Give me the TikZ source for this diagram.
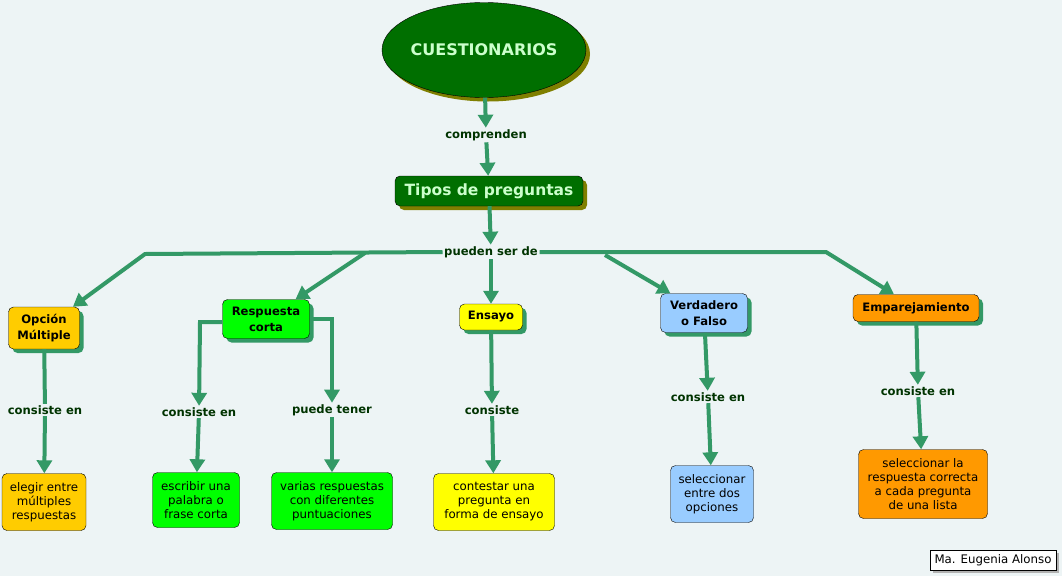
\documentclass[tikz,border=0pt]{standalone}
\usepackage{fontspec}
\setmainfont{DejaVu Sans}
\usetikzlibrary{arrows.meta,shapes.geometric,shadows,positioning}

\definecolor{fondo}{HTML}{EDF4F5}
\definecolor{verdeflecha}{HTML}{339966}
\definecolor{oliva}{HTML}{7F7F00}
\definecolor{verdeosc}{HTML}{006F00}
\definecolor{verdeclaro}{HTML}{CCFFCC}
\definecolor{textoenlace}{HTML}{003300}
\definecolor{amarillo1}{HTML}{FFCC00}
\definecolor{verde1}{HTML}{00FF00}
\definecolor{amarillo2}{HTML}{FFFF00}
\definecolor{azul1}{HTML}{99CCFF}
\definecolor{naranja1}{HTML}{FF9900}

\begin{document}
\begin{tikzpicture}[
  x=1pt, y=-1pt,
  concepto/.style={draw, rounded corners=5pt, align=center, inner sep=2pt,
    font=\bfseries\fontsize{11.6}{16}\selectfont,
    drop shadow={shadow xshift=4pt, shadow yshift=-4pt, fill=verdeflecha, opacity=1}},
  hoja/.style={draw, rounded corners=5pt, align=center, inner sep=2pt,
    font=\fontsize{11.8}{14}\selectfont},
  enlace/.style={fill=fondo, inner sep=1.5pt, text=textoenlace,
    font=\bfseries\fontsize{11.6}{13}\selectfont},
  linea/.style={draw=verdeflecha, line width=4pt},
  flecha/.style={linea, -{Triangle[width=15pt,length=13pt]}}
]
\useasboundingbox[fill=fondo] (0,0) rectangle (1062,576);

% conceptos principales
\node[ellipse, draw, fill=verdeosc, minimum width=204pt, minimum height=95pt,
  inner xsep=-3pt, inner ysep=0pt,
  text=verdeclaro, font=\bfseries\fontsize{16}{18}\selectfont,
  drop shadow={shadow xshift=4pt, shadow yshift=-4pt, fill=oliva, opacity=1}]
  (cuest) at (484,50) {CUESTIONARIOS};
\node[enlace] (compr) at (486,135) {comprenden};
\node[draw, rounded corners=5pt, fill=verdeosc, minimum width=188pt, minimum height=30pt,
  text=verdeclaro, font=\bfseries\fontsize{15.5}{18}\selectfont,
  drop shadow={shadow xshift=4pt, shadow yshift=-4pt, fill=oliva, opacity=1}]
  (tipos) at (489,191) {Tipos de preguntas};
\node[enlace] (pueden) at (491,252) {pueden ser de};

% tipos
\node[concepto, fill=amarillo1, minimum width=71pt, minimum height=42pt] (opcion) at (44,328) {Opción\\Múltiple};
\node[concepto, fill=verde1, minimum width=87pt, minimum height=39pt] (resp) at (266,319) {Respuesta\\corta};
\node[concepto, fill=amarillo2, minimum width=63pt, minimum height=26pt] (ensayo) at (491,317) {Ensayo};
\node[concepto, fill=azul1, minimum width=87pt, minimum height=39pt] (verd) at (704,313) {Verdadero\\o Falso};
\node[concepto, fill=naranja1, minimum width=126pt, minimum height=27pt] (empar) at (916,308) {Emparejamiento};

% enlaces inferiores
\node[enlace] (consOpc) at (45,410) {consiste en};
\node[enlace] (consResp) at (199,412) {consiste en};
\node[enlace] (tener) at (332,410) {puede tener};
\node[enlace] (consEns) at (492,410) {consiste};
\node[enlace] (consVerd) at (708,397) {consiste en};
\node[enlace] (consEmp) at (918,391) {consiste en};

% descripciones
\node[hoja, fill=amarillo1, minimum width=84pt, minimum height=57pt] (elegir) at (44,502) {elegir entre\\múltiples\\respuestas};
\node[hoja, fill=verde1, minimum width=87pt, minimum height=55pt] (escribir) at (196,500) {escribir una\\palabra o\\frase corta};
\node[hoja, fill=verde1, minimum width=121pt, minimum height=57pt] (varias) at (332,501) {varias respuestas\\con diferentes\\puntuaciones};
\node[hoja, fill=amarillo2, minimum width=121pt, minimum height=57pt] (contestar) at (494,502) {contestar una\\pregunta en\\forma de ensayo};
\node[hoja, fill=azul1, minimum width=83pt, minimum height=57pt] (selDos) at (712,494) {seleccionar\\entre dos\\opciones};
\node[hoja, fill=naranja1, minimum width=129pt, minimum height=69pt] (selLista) at (923,484) {seleccionar la\\respuesta correcta\\a cada pregunta\\de una lista};

\node[draw, fill=white, inner sep=2.5pt, minimum width=126pt, minimum height=20pt,
  font=\fontsize{11.8}{13}\selectfont,
  drop shadow={shadow xshift=3pt, shadow yshift=-3pt, fill=gray!60, opacity=1}]
  (autora) at (993,560) {Ma. Eugenia Alonso};

% puntos de quiebre
\coordinate (qOpc) at (145,254);
\coordinate (qResp) at (365,253);
\coordinate (qVerd) at (605,255);
\coordinate (qEmp) at (826,252);
\coordinate (qRespIzq) at (200,322);
\coordinate (qRespDer) at (332,319);

% conexiones
\draw[flecha] (cuest) -- (compr);
\draw[flecha] (compr) -- (tipos);
\draw[flecha] (tipos) -- (pueden);
\draw[flecha] (pueden.west) -- (qOpc) -- (opcion);
\draw[flecha] (qResp) -- (resp);
\draw[flecha] (pueden) -- (ensayo);
\draw[flecha] (pueden.east) -- (qEmp) -- (empar);
\draw[flecha] (qVerd) -- (verd);

\draw[linea] (opcion) -- (consOpc);
\draw[flecha] (consOpc) -- (elegir);
\draw[flecha] (resp.west |- qRespIzq) -- (qRespIzq) -- (consResp);
\draw[flecha] (consResp) -- (escribir);
\draw[flecha] (resp.east |- qRespDer) -- (qRespDer) -- (tener);
\draw[flecha] (tener) -- (varias);
\draw[flecha] (ensayo) -- (consEns);
\draw[flecha] (consEns) -- (contestar);
\draw[flecha] (verd) -- (consVerd);
\draw[flecha] (consVerd) -- (selDos);
\draw[flecha] (empar) -- (consEmp);
\draw[flecha] (consEmp) -- (selLista);
\end{tikzpicture}
\end{document}
